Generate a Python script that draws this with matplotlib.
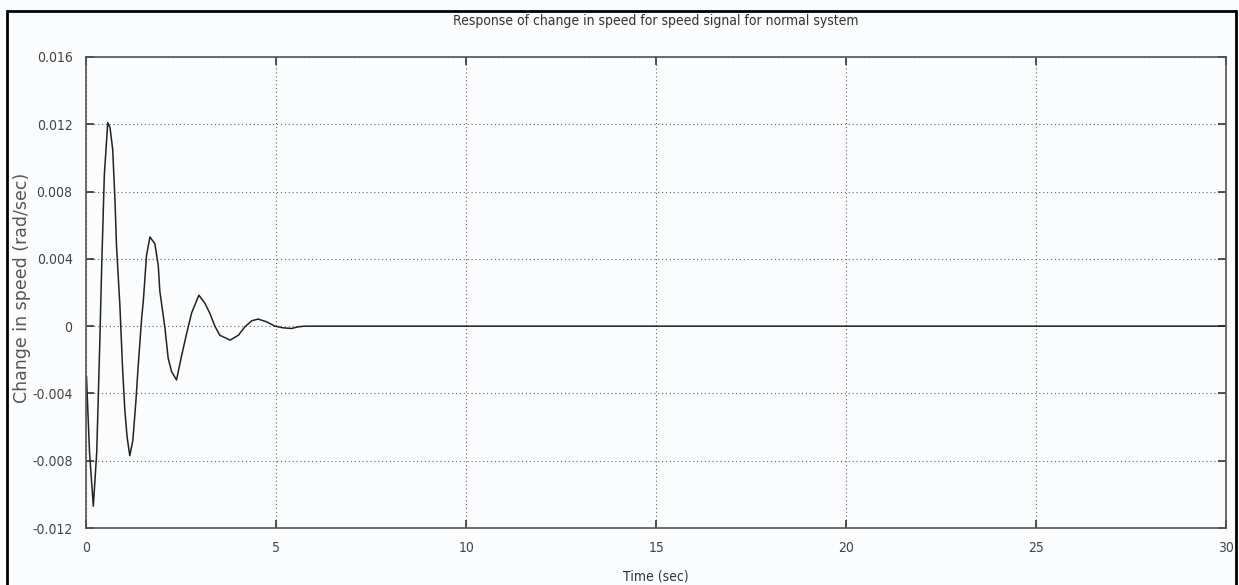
import matplotlib
matplotlib.use("Agg")
import matplotlib.pyplot as plt
from matplotlib.patches import Rectangle

# speed deviation (t in sec, dw in rad/sec)
t = [0.0, 0.08, 0.18, 0.27, 0.35, 0.40, 0.47, 0.56, 0.62, 0.69, 0.75, 0.79,
     0.88, 0.95, 1.01, 1.07, 1.14, 1.22, 1.30, 1.36, 1.45, 1.50, 1.58, 1.67,
     1.80, 1.89, 1.93, 2.01, 2.07, 2.15, 2.24, 2.37, 2.50, 2.64, 2.77, 2.96,
     3.12, 3.25, 3.38, 3.51, 3.78, 4.00, 4.17, 4.35, 4.52, 4.74, 4.96, 5.18,
     5.40, 5.57, 5.75, 30.0]
dw = [-0.0030, -0.0075, -0.0107, -0.0075, -0.0010, 0.0035, 0.0090, 0.0121,
      0.0118, 0.0105, 0.0075, 0.0048, 0.0012, -0.0025, -0.0050, -0.0066,
      -0.0077, -0.0068, -0.0045, -0.0024, 0.0004, 0.0016, 0.0042, 0.0053,
      0.0049, 0.0036, 0.0021, 0.0008, -0.0002, -0.0019, -0.0027, -0.0032,
      -0.0018, -0.0004, 0.0008, 0.00184, 0.00135, 0.00075, 0.0, -0.00054,
      -0.00083, -0.00054, -0.00004, 0.00032, 0.00042, 0.00026, 0.0, -0.0001,
      -0.00014, -0.00004, 0.0, 0.0]

xticks = [0, 5, 10, 15, 20, 25, 30]
yticks = [-0.012, -0.008, -0.004, 0, 0.004, 0.008, 0.012, 0.016]
ylabels = ["-0.012", "-0.008", "-0.004", "0", "0.004", "0.008", "0.012", "0.016"]

plt.rcParams['font.family'] = ['DejaVu Sans']
plt.rcParams['font.stretch'] = 'condensed'

fig = plt.figure(figsize=(12.39, 5.85), dpi=100)
fig.patch.set_facecolor('#fbfcfd')
ax = fig.add_axes([0.0698, 0.0974, 0.9197, 0.8052])
ax.set_facecolor('#fbfcfd')

ax.plot(t, dw, color='#222222', lw=1.1)

ax.set_xlim(0, 30)
ax.set_ylim(-0.012, 0.016)
ax.set_xticks(xticks)
ax.set_yticks(yticks)
ax.set_yticklabels(ylabels)
ax.grid(True, color='#666666', linestyle=(0, (1, 2.5)), lw=0.8)
ax.tick_params(direction='in', length=6, width=1.2, color='#333333',
               top=True, right=True, labelsize=10, labelcolor='#444444')
ax.tick_params(axis='x', pad=9)
ax.tick_params(axis='y', pad=10)
for s in ax.spines.values():
    s.set_color('#555555')
    s.set_linewidth(1.2)

ax.set_title("Response of change in speed for speed signal for normal system",
             fontsize=10, color='#333333', pad=23)
ax.set_xlabel("Time (sec)", fontsize=10, color='#333333', labelpad=11)
ax.set_ylabel("Change in speed (rad/sec)", fontsize=12.5, color='#555555',
              fontstretch='normal')
ax.yaxis.set_label_coords(-0.049, 0.51)

# black frame round the whole picture
fig.patches.append(Rectangle((7 / 1239, -0.02), 1229 / 1239, 1.02 - 11 / 585,
                             transform=fig.transFigure, fill=False,
                             edgecolor='black', lw=2))

fig.savefig("out.png", dpi=100, facecolor=fig.get_facecolor())
